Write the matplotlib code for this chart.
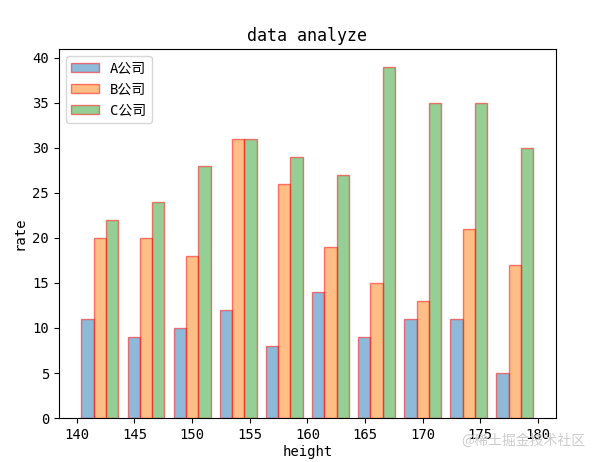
import matplotlib
matplotlib.use('Agg')
import matplotlib.pyplot as plt
import numpy as np

plt.rcParams['font.family'] = ['DejaVu Sans Mono', 'Noto Sans CJK SC']
plt.rcParams['axes.unicode_minus'] = False

# bin edges of the height histogram
edges = [140, 144, 148, 152, 156, 160, 164, 168, 172, 176, 180]
labels = ['A公司', 'B公司', 'C公司']
a_counts = [11, 9, 10, 12, 8, 14, 9, 11, 11, 5]
b_counts = [20, 20, 18, 31, 26, 19, 15, 13, 21, 17]
c_counts = [22, 24, 28, 31, 29, 27, 39, 35, 35, 30]

centers = [(edges[i] + edges[i + 1]) / 2 for i in range(len(edges) - 1)]

fig = plt.figure(figsize=(5.94, 4.62), dpi=100)
fig.subplots_adjust(left=0.099, right=0.936, top=0.894, bottom=0.095)
plt.hist([centers, centers, centers], bins=edges,
         weights=[a_counts, b_counts, c_counts],
         alpha=0.5, edgecolor='red', label=labels)
plt.xlabel('height', labelpad=2)
plt.ylabel('rate')
plt.title('data analyze')
plt.legend(loc='upper left')
fig.text(0.985, 0.03, '@稀土掘金技术社区', ha='right', va='bottom',
         color='#cccccc', fontsize=10, family=['Noto Sans CJK SC'])
plt.savefig('out.png')
